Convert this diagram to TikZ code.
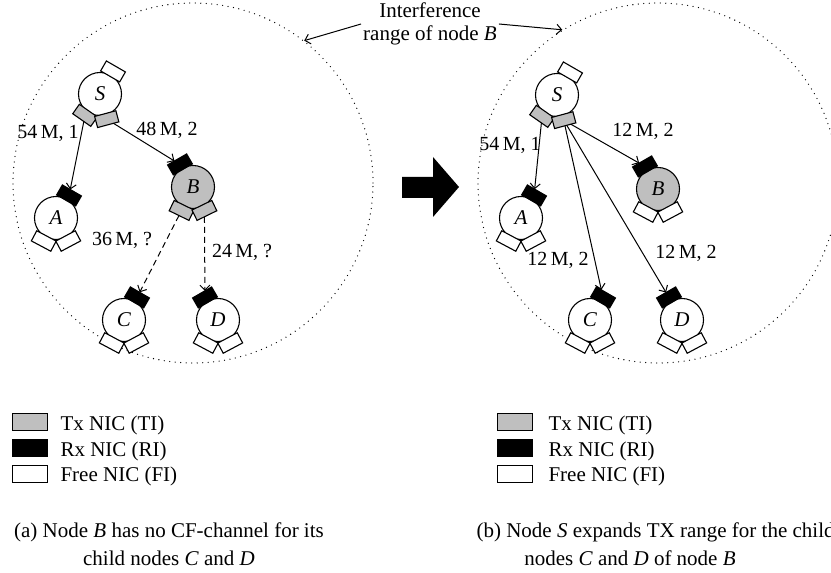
\documentclass[tikz,border=0pt]{standalone}
\usepackage{fontspec}
\setmainfont{Liberation Serif}
\usetikzlibrary{arrows.meta,calc}
\tikzset{
 every node/.style={font=\fontsize{21}{23}\selectfont},
 host/.style={circle,draw,line width=1.1pt,minimum size=43pt,inner sep=0pt,fill=white},
 hostgray/.style={host,fill=black!25},
 nicbox/.style={draw,line width=1.1pt,minimum width=22pt,minimum height=11.5pt,inner sep=0pt,outer sep=0pt},
 nictx/.style={nicbox,fill=black!25},
 nicrx/.style={nicbox,fill=black},
 nicfr/.style={nicbox,fill=white},
 link/.style={line width=1pt,-{Straight Barb[length=5pt,width=10pt]}},
 dlink/.style={link,dash pattern=on 6pt off 4pt},
 rangecirc/.style={circle,draw,minimum size=360pt,inner sep=0pt,line width=1.3pt,dash pattern=on 0pt off 5.5pt,line cap=round},
 lbl/.style={font=\fontsize{20}{24}\selectfont,inner sep=1pt},
 legbox/.style={draw,line width=1.1pt,minimum width=35pt,minimum height=17pt,inner sep=0pt,anchor=south west},
 legtxt/.style={anchor=base west},
}
\newcommand\nicat[4]{\node[#4,rotate=#3-90,anchor=south] (#1) at ($(#2.center)+(#3:20.3)$) {};}
\begin{document}
\begin{tikzpicture}[x=1pt,y=1pt]
\useasboundingbox (0,0) rectangle (831,573);
% interference ranges
\node[rangecirc] (rangeL) at (193,390) {};
\node[rangecirc] (rangeR) at (658,390) {};
% ---------- left panel ----------
\node[host] (lS) at (100,479) {\textit{S}};
\node[host] (lA) at (56,355) {\textit{A}};
\node[hostgray] (lB) at (193,386) {\textit{B}};
\node[host] (lC) at (124,253) {\textit{C}};
\node[host] (lD) at (218,253) {\textit{D}};
\nicat{lS-f}{lS}{60}{nicfr}
\nicat{lS-t1}{lS}{235}{nictx}
\nicat{lS-t2}{lS}{285}{nictx}
\nicat{lA-r}{lA}{60}{nicrx}
\nicat{lA-f1}{lA}{242}{nicfr}
\nicat{lA-f2}{lA}{298}{nicfr}
\nicat{lB-r}{lB}{120}{nicrx}
\nicat{lB-t1}{lB}{244}{nictx}
\nicat{lB-t2}{lB}{296}{nictx}
\nicat{lC-r}{lC}{60}{nicrx}
\nicat{lC-f1}{lC}{242}{nicfr}
\nicat{lC-f2}{lC}{298}{nicfr}
\nicat{lD-r}{lD}{120}{nicrx}
\nicat{lD-f1}{lD}{242}{nicfr}
\nicat{lD-f2}{lD}{298}{nicfr}
\draw[link] (lS-t1) -- (lA-r);
\draw[link] (lS-t2) -- (lB-r);
\draw[dlink] (lB-t1) -- (lC-r);
\draw[dlink] (lB-t2) -- (lD-r);
\node[lbl] (lL1) at (48,440) {54\,M, 1};
\node[lbl] (lL2) at (167,443) {48\,M, 2};
\node[lbl] (lL3) at (122,333) {36\,M, ?};
\node[lbl] (lL4) at (242,321) {24\,M, ?};
% ---------- right panel ----------
\node[host] (rS) at (557,478) {\textit{S}};
\node[host] (rA) at (521,355) {\textit{A}};
\node[hostgray] (rB) at (658,384) {\textit{B}};
\node[host] (rC) at (590,253) {\textit{C}};
\node[host] (rD) at (682,253) {\textit{D}};
\nicat{rS-f}{rS}{60}{nicfr}
\nicat{rS-t1}{rS}{235}{nictx}
\nicat{rS-t2}{rS}{285}{nictx}
\nicat{rA-r}{rA}{60}{nicrx}
\nicat{rA-f1}{rA}{242}{nicfr}
\nicat{rA-f2}{rA}{298}{nicfr}
\nicat{rB-r}{rB}{120}{nicrx}
\nicat{rB-f1}{rB}{242}{nicfr}
\nicat{rB-f2}{rB}{298}{nicfr}
\nicat{rC-r}{rC}{60}{nicrx}
\nicat{rC-f1}{rC}{242}{nicfr}
\nicat{rC-f2}{rC}{298}{nicfr}
\nicat{rD-r}{rD}{120}{nicrx}
\nicat{rD-f1}{rD}{242}{nicfr}
\nicat{rD-f2}{rD}{298}{nicfr}
\draw[link] (rS-t1) -- (rA-r);
\draw[link] (rS-t2) -- (rB-r);
\draw[link] (rS-t2) -- (rC-r);
\draw[link] (rS-t2) -- (rD-r);
\node[lbl] (rL1) at (510,428) {54\,M, 1};
\node[lbl] (rL2) at (643,442) {12\,M, 2};
\node[lbl] (rL3) at (558,313) {12\,M, 2};
\node[lbl] (rL4) at (686,320) {12\,M, 2};
% ---------- big arrow ----------
\fill (402,396) -- (433,396) -- (433,416) -- (459,386) -- (433,356) -- (433,375) -- (402,375) -- cycle;
% ---------- interference label ----------
\node[align=center,inner sep=2pt] (intf) at (430,549) {Interference\\range of node \textit{B}};
\draw[link] (intf.west) -- (rangeL.52);
\draw[link] (intf.east) -- (rangeR.122);
% ---------- legends ----------
\node[legbox,fill=black!25] (lgT) at (12,142) {};
\node[legbox,fill=black] (lgR) at (12,116) {};
\node[legbox,fill=white] (lgF) at (12,90) {};
\node[legtxt] (lgTt) at (57,142) {Tx NIC (TI)};
\node[legtxt] (lgRt) at (57,116) {Rx NIC (RI)};
\node[legtxt] (lgFt) at (57,91) {Free NIC (FI)};
\node[legbox,fill=black!25] (rgT) at (497,142) {};
\node[legbox,fill=black] (rgR) at (497,116) {};
\node[legbox,fill=white] (rgF) at (497,90) {};
\node[legtxt] (rgTt) at (545,142) {Tx NIC (TI)};
\node[legtxt] (rgRt) at (545,116) {Rx NIC (RI)};
\node[legtxt] (rgFt) at (545,91) {Free NIC (FI)};
% ---------- captions ----------
\node[anchor=base] (capA1) at (169,35) {(a) Node \textit{B} has no CF-channel for its};
\node[anchor=base] (capA2) at (169,7) {child nodes \textit{C} and \textit{D}};
\node[anchor=base west] (capB1) at (473,35) {(b) Node \textit{S} expands TX range for the child};
\node[anchor=base] (capB2) at (630,7) {nodes \textit{C} and \textit{D} of node \textit{B}};
\end{tikzpicture}
\end{document}
